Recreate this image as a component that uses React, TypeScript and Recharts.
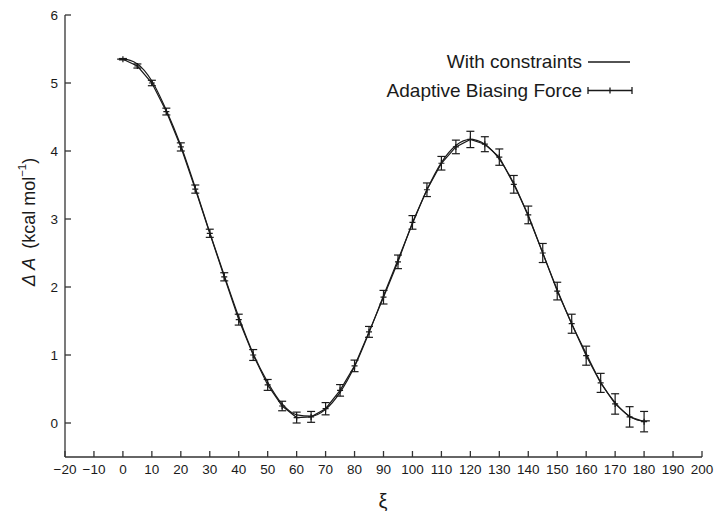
import { LineChart, Line, XAxis, YAxis, ErrorBar, Legend } from 'recharts';

// Adaptive Biasing Force samples (every 5 degrees) with error bars
const abfXi = [0, 5, 10, 15, 20, 25, 30, 35, 40, 45, 50, 55, 60, 65, 70, 75, 80, 85, 90, 95, 100, 105, 110, 115, 120, 125, 130, 135, 140, 145, 150, 155, 160, 165, 170, 175, 180];
const abfA = [5.35, 5.25, 5.0, 4.58, 4.06, 3.44, 2.79, 2.15, 1.52, 1.0, 0.56, 0.25, 0.08, 0.09, 0.21, 0.48, 0.84, 1.34, 1.85, 2.37, 2.95, 3.43, 3.82, 4.06, 4.17, 4.1, 3.91, 3.51, 3.06, 2.5, 1.94, 1.46, 0.99, 0.59, 0.28, 0.09, 0.02];
const abfErr = [0.01, 0.03, 0.04, 0.05, 0.06, 0.06, 0.06, 0.06, 0.08, 0.08, 0.08, 0.07, 0.08, 0.08, 0.09, 0.085, 0.085, 0.08, 0.1, 0.1, 0.1, 0.1, 0.1, 0.1, 0.12, 0.11, 0.12, 0.13, 0.13, 0.14, 0.13, 0.14, 0.14, 0.14, 0.15, 0.15, 0.15];

// constrained MD profile
const conXi = [-2, 0, 5, 10, 15, 20, 25, 30, 35, 40, 45, 50, 55, 60, 65, 70, 75, 80, 85, 90, 95, 100, 105, 110, 115, 120, 125, 130, 135, 140, 145, 150, 155, 160, 165, 170, 175, 180, 182];
const conA = [5.35, 5.35, 5.28, 5.03, 4.6, 4.08, 3.46, 2.8, 2.17, 1.56, 1.02, 0.6, 0.28, 0.12, 0.1, 0.2, 0.45, 0.83, 1.33, 1.87, 2.4, 2.93, 3.43, 3.83, 4.08, 4.17, 4.1, 3.88, 3.52, 3.04, 2.5, 1.96, 1.46, 1.02, 0.6, 0.3, 0.1, 0.03, 0.03];

const xTicks = [-20, -10, 0, 10, 20, 30, 40, 50, 60, 70, 80, 90, 100, 110, 120, 130, 140, 150, 160, 170, 180, 190, 200];
const yTicks = [0, 1, 2, 3, 4, 5, 6];

const abfData = abfXi.map((x, i) => ({ x, a: abfA[i], err: abfErr[i] }));
const conData = conXi.map((x, i) => ({ x, a: conA[i] }));

const FONT = 'Liberation Sans, Arial, sans-serif';
const INK = '#1a1a1a';
const AXIS = '#333';
const GAP = 7; // distance between frame and tick labels
const TICK = 6; // inward tick length

const fmt = (v: number) => (v < 0 ? '\u2212' + Math.abs(v) : String(v));

// tick label plus inward tick mark on the bottom edge
const BottomTick = (props: any) => {
  const { x, y, payload } = props;
  return (
    <g>
      <line x1={x} x2={x} y1={y - GAP} y2={y - GAP - TICK} stroke={AXIS} strokeWidth={1.3} />
      <text x={x} y={y} dy="0.71em" textAnchor="middle" fontFamily={FONT} fontSize={13.5} fill={INK}>
        {fmt(payload.value)}
      </text>
    </g>
  );
};

// tick label plus inward tick mark on the left edge
const LeftTick = (props: any) => {
  const { x, y, payload } = props;
  return (
    <g>
      <line x1={x + GAP} x2={x + GAP + TICK} y1={y} y2={y} stroke={AXIS} strokeWidth={1.3} />
      <text x={x} y={y} dy="0.36em" textAnchor="end" fontFamily={FONT} fontSize={13.5} fill={INK}>
        {payload.value}
      </text>
    </g>
  );
};

const Plus = (props: any) => {
  const { cx, cy, index } = props;
  if (cx == null || cy == null) return <g key={index} />;
  return <path key={index} d={`M${cx - 3},${cy}h6M${cx},${cy - 3}v6`} stroke={INK} strokeWidth={1.2} />;
};

const LegendBox = () => (
  <svg width={300} height={60} style={{ overflow: 'visible' }}>
    <g fontFamily={FONT} fontSize={19} fill={INK}>
      <text x={202} y={18} textAnchor="end">With constraints</text>
      <text x={202} y={47} textAnchor="end">Adaptive Biasing Force</text>
    </g>
    <line x1={208} x2={250} y1={12} y2={12} stroke={INK} strokeWidth={1.3} />
    <line x1={208} x2={252} y1={40.5} y2={40.5} stroke={INK} strokeWidth={1.3} />
    <line x1={208} x2={208} y1={37} y2={44} stroke={INK} strokeWidth={1.3} />
    <line x1={252} x2={252} y1={37} y2={44} stroke={INK} strokeWidth={1.3} />
    <line x1={230} x2={230} y1={37.5} y2={43.5} stroke={INK} strokeWidth={1.3} />
  </svg>
);

const YLabel = () => (
  <text
    transform="translate(29,222) rotate(-90)"
    textAnchor="middle"
    dominantBaseline="central"
    fontFamily={FONT}
    fontSize={18}
    fill={INK}
  >
    <tspan fontStyle="italic">{'\u0394'} A</tspan>
    <tspan>{'\u2002(kcal mol'}</tspan>
    <tspan fontSize={11.5} dy={-7}>{'\u22121'}</tspan>
    <tspan dy={7}>)</tspan>
  </text>
);

const XLabel = () => (
  <text x={383} y={501} textAnchor="middle" dominantBaseline="central" fontFamily={FONT} fontSize={20} fill={INK}>
    {'\u03be'}
  </text>
);

export default function App() {
  return (
    <div style={{ position: 'absolute', left: 0, top: 0 }}>
      <LineChart width={717} height={511} margin={{ top: 15, right: 15, bottom: 0, left: 0 }}>
        <XAxis
          xAxisId="b"
          type="number"
          dataKey="x"
          domain={[-20, 200]}
          ticks={xTicks}
          interval={0}
          allowDataOverflow
          height={54}
          tickLine={false}
          tickSize={0}
          tickMargin={GAP}
          stroke={AXIS}
          strokeWidth={1.3}
          tick={<BottomTick />}
          label={<XLabel />}
        />
        <XAxis
          xAxisId="t"
          orientation="top"
          type="number"
          dataKey="x"
          domain={[-20, 200]}
          ticks={xTicks}
          interval={0}
          allowDataOverflow
          height={0}
          mirror
          tickSize={TICK}
          tickFormatter={() => ''}
          stroke={AXIS}
          strokeWidth={1.3}
        />
        <YAxis
          yAxisId="l"
          type="number"
          domain={[-0.5, 6]}
          ticks={yTicks}
          interval={0}
          allowDataOverflow
          width={65}
          tickLine={false}
          tickSize={0}
          tickMargin={GAP}
          stroke={AXIS}
          strokeWidth={1.3}
          tick={<LeftTick />}
          label={<YLabel />}
        />
        <YAxis
          yAxisId="r"
          orientation="right"
          type="number"
          domain={[-0.5, 6]}
          ticks={yTicks}
          interval={0}
          allowDataOverflow
          width={0}
          mirror
          tickSize={TICK}
          tickFormatter={() => ''}
          stroke={AXIS}
          strokeWidth={1.3}
        />
        <Legend
          layout="vertical"
          align="center"
          verticalAlign="middle"
          content={<LegendBox />}
          wrapperStyle={{ top: 50, left: 380, width: 300, height: 60 }}
        />
        <Line
          xAxisId="b"
          yAxisId="l"
          data={conData}
          dataKey="a"
          name="With constraints"
          type="monotone"
          stroke={INK}
          strokeWidth={1.2}
          dot={false}
          activeDot={false}
          isAnimationActive={false}
        />
        <Line
          xAxisId="b"
          yAxisId="l"
          data={abfData}
          dataKey="a"
          name="Adaptive Biasing Force"
          type="linear"
          stroke={INK}
          strokeWidth={1.2}
          dot={Plus}
          activeDot={false}
          isAnimationActive={false}
        >
          <ErrorBar dataKey="err" width={4} stroke={INK} strokeWidth={1.2} direction="y" />
        </Line>
      </LineChart>
    </div>
  );
}
